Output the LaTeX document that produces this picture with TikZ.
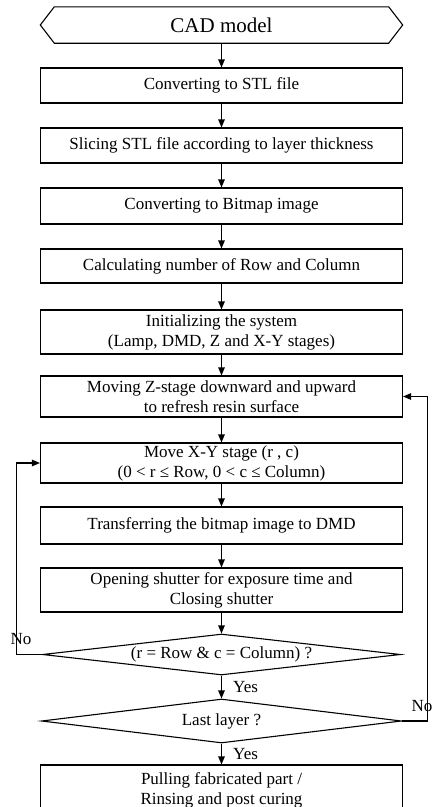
\documentclass[tikz,border=0pt]{standalone}
\usepackage{fontspec}
\setmainfont{Liberation Serif}
\usetikzlibrary{shapes.geometric,arrows.meta}
\begin{document}
\begin{tikzpicture}[x=1pt,y=-1pt,
  txt/.style={font=\fontsize{17}{20}\selectfont},
  box/.style={txt,draw,line width=1.1pt,minimum width=362pt,inner sep=0pt,align=center},
  dec/.style={txt,draw,diamond,aspect=8.7,line width=1.1pt,inner sep=0pt,align=center},
  arr/.style={line width=1.1pt,-{Triangle[length=8pt,width=6.5pt]}},
  lbl/.style={txt,inner sep=0pt}]
\useasboundingbox (0,0) rectangle (435,807);
\clip (0,0) rectangle (435,807);
\fill[white] (0,0) rectangle (435,807);
% start terminal
\node[minimum width=362pt,minimum height=36pt,inner sep=0pt,font=\fontsize{21}{24}\selectfont] (cad) at (221.5,25) {CAD model};
\draw[line width=1.1pt] (cad.west) -- ([xshift=14pt]cad.north west) -- ([xshift=-14pt]cad.north east) -- (cad.east) -- ([xshift=-14pt]cad.south east) -- ([xshift=14pt]cad.south west) -- cycle;
% boxes
\node[box,minimum height=35pt] (b1) at (221.5,85.5) {Converting to STL file};
\node[box,minimum height=35pt] (b2) at (221.5,145.5) {Slicing STL file according to layer thickness};
\node[box,minimum height=36pt] (b3) at (221.5,206) {Converting to Bitmap image};
\node[box,minimum height=34pt] (b4) at (221.5,266) {Calculating number of Row and Column};
\node[box,minimum height=44pt] (b5) at (221.5,332) {Initializing the system\\(Lamp, DMD, Z and X-Y stages)};
\node[box,minimum height=41pt] (b6) at (221.5,396.5) {Moving Z-stage downward and upward\\to refresh resin surface};
\node[box,minimum height=40pt] (b7) at (221.5,463) {Move X-Y stage (r , c)\\(0 < r ≤ Row, 0 < c ≤ Column)};
\node[box,minimum height=37pt] (b8) at (221.5,525.5) {Transferring the bitmap image to DMD};
\node[box,minimum height=44pt] (b9) at (221.5,590) {Opening shutter for exposure time and\\Closing shutter};
\node[dec,minimum width=358pt,minimum height=41pt] (d1) at (221.5,654.5) {(r = Row \& c = Column) ?};
\node[dec,minimum width=360pt,minimum height=44pt] (d2) at (221.5,721) {Last layer ?};
\node[box,minimum height=50pt] (b10) at (221.5,790) {Pulling fabricated part /\\Rinsing and post curing};
% connectors
\draw[arr] (cad.south) -- (b1.north);
\draw[arr] (b1.south) -- (b2.north);
\draw[arr] (b2.south) -- (b3.north);
\draw[arr] (b3.south) -- (b4.north);
\draw[arr] (b4.south) -- (b5.north);
\draw[arr] (b5.south) -- (b6.north);
\draw[arr] (b6.south) -- (b7.north);
\draw[arr] (b7.south) -- (b8.north);
\draw[arr] (b8.south) -- (b9.north);
\draw[arr] (b9.south) -- (d1.north);
\draw[arr] (d1.south) -- (d2.north);
\draw[arr] (d2.south) -- (b10.north);
\draw[arr] (d1.west) -- ++(-25.5,0) coordinate (lc) |- (b7.west);
\draw[arr] (d2.east) -- ++(25,0) coordinate (rc) |- (b6.east);
% labels
\node[lbl] (no1) at (21,639) {No};
\node[lbl] (no2) at (422,706) {No};
\node[lbl,anchor=west] (yes1) at (233,687) {Yes};
\node[lbl,anchor=west] (yes2) at (233,754) {Yes};
\end{tikzpicture}
\end{document}
